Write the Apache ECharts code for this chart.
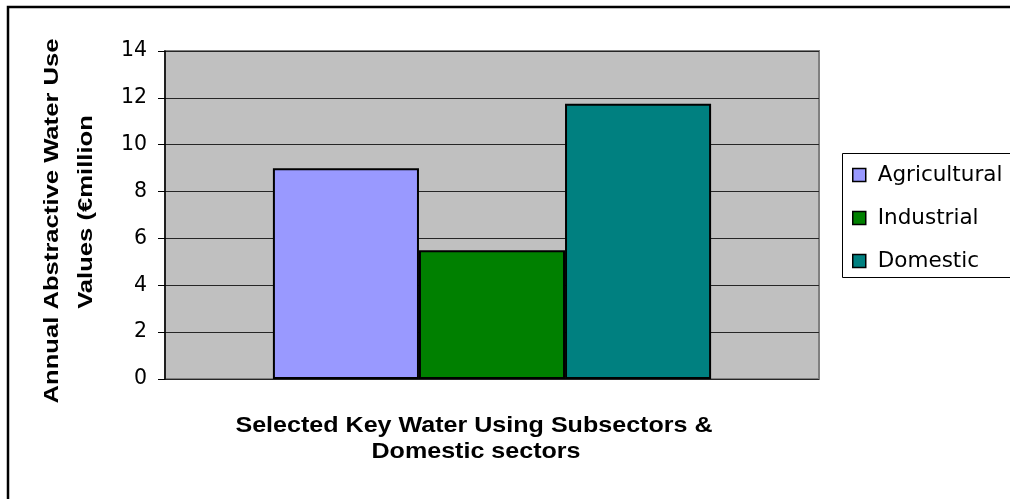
<!DOCTYPE html>
<html>
<head>
<meta charset="utf-8">
<title>Annual Abstractive Water Use Values</title>
<script src="https://cdn.jsdelivr.net/npm/echarts@6/dist/echarts.min.js"></script>
<style>
  html, body { margin: 0; padding: 0; background: #ffffff; }
  #chart { width: 1010px; height: 499px; }
</style>
</head>
<body>
<div id="chart"></div>
<script>
// Sectors, their annual abstractive water use values (€ million) and fill colours
const sectors = ['Agricultural', 'Industrial', 'Domestic'];
const useValues = [9.0, 5.5, 11.75];
const sectorColors = ['#9999FF', '#008000', '#008080'];

// Value axis range and step
const yMin = 0;
const yMax = 14;
const yStep = 2;

// Axis titles
const yTitleLines = ['Annual Abstractive Water Use', 'Values (€million'];
const xTitleLines = ['Selected Key Water Using Subsectors &', 'Domestic sectors'];

const chart = echarts.init(document.getElementById('chart'), null, { renderer: 'canvas' });

const series = sectors.map((name, i) => ({
  name: name,
  type: 'bar',
  data: [useValues[i]],
  barGap: '0%',
  barCategoryGap: '33%',
  itemStyle: {
    color: sectorColors[i],
    borderColor: '#000000',
    borderWidth: 2
  },
  emphasis: { disabled: true },
  animation: false
}));

const titleFont = '"Liberation Sans", Arial, sans-serif';

chart.setOption({
  animation: false,
  backgroundColor: '#ffffff',
  grid: {
    left: 165,
    right: 191,
    top: 51,
    bottom: 120,
    show: true,
    backgroundColor: '#C0C0C0',
    borderColor: '#808080',
    borderWidth: 2,
    containLabel: false
  },
  xAxis: {
    type: 'category',
    data: [''],
    axisLine: { show: false },
    axisTick: { show: false },
    axisLabel: { show: false },
    splitLine: { show: false }
  },
  yAxis: {
    type: 'value',
    min: yMin,
    max: yMax,
    interval: yStep,
    axisLine: { show: true, lineStyle: { color: '#000000', width: 1.5 } },
    axisTick: { show: true, inside: false, length: 7, lineStyle: { color: '#000000', width: 1 } },
    axisLabel: {
      margin: 18,
      color: '#000000',
      fontFamily: '"DejaVu Sans", sans-serif',
      fontSize: 20.5
    },
    splitLine: { show: true, lineStyle: { color: '#262626', width: 1 } }
  },
  legend: {
    orient: 'vertical',
    left: 852,
    top: 164,
    padding: 0,
    itemWidth: 13,
    itemHeight: 13,
    itemGap: 21,
    icon: 'rect',
    selectedMode: false,
    data: sectors,
    itemStyle: { borderColor: '#000000', borderWidth: 1.5 },
    textStyle: {
      color: '#000000',
      fontFamily: '"DejaVu Sans", sans-serif',
      fontSize: 21.5,
      lineHeight: 21,
      padding: [0, 0, 0, 7]
    }
  },
  graphic: [
    // outer frame (top and left edges)
    {
      type: 'polyline',
      z: 10,
      shape: { points: [[8, 499], [8, 7], [1010, 7]] },
      style: { stroke: '#000000', lineWidth: 2.5, fill: null }
    },
    // legend box
    {
      type: 'rect',
      z: -1,
      shape: { x: 842.5, y: 153.5, width: 170, height: 124 },
      style: { fill: '#ffffff', stroke: '#000000', lineWidth: 1 }
    },
    // value axis title, two lines
    {
      type: 'text',
      x: 52, y: 221,
      rotation: Math.PI / 2,
      scaleX: 1.22,
      style: {
        text: yTitleLines[0],
        fill: '#000000',
        font: 'bold 21px ' + titleFont,
        align: 'center',
        verticalAlign: 'middle'
      }
    },
    {
      type: 'text',
      x: 86, y: 212,
      rotation: Math.PI / 2,
      scaleX: 1.22,
      style: {
        text: yTitleLines[1],
        fill: '#000000',
        font: 'bold 21px ' + titleFont,
        align: 'center',
        verticalAlign: 'middle'
      }
    },
    // category axis title, two lines
    {
      type: 'text',
      x: 474, y: 426,
      scaleX: 1.14,
      style: {
        text: xTitleLines[0],
        fill: '#000000',
        font: 'bold 22px ' + titleFont,
        align: 'center',
        verticalAlign: 'middle'
      }
    },
    {
      type: 'text',
      x: 476, y: 452,
      scaleX: 1.14,
      style: {
        text: xTitleLines[1],
        fill: '#000000',
        font: 'bold 22px ' + titleFont,
        align: 'center',
        verticalAlign: 'middle'
      }
    }
  ],
  series: series
});
</script>
</body>
</html>
